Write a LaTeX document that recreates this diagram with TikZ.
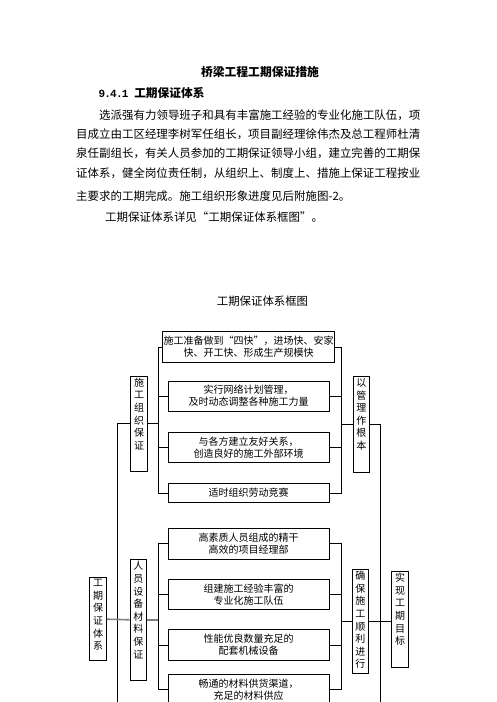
\documentclass[tikz,border=0pt]{standalone}
\usepackage{fontspec}
\setmainfont{Noto Sans CJK SC}
\newfontfamily\monofont{Liberation Mono}
% vertical column of characters, top aligned in a box of fixed height
\newcommand{\stack}[2]{\parbox[c][#1][t]{1em}{\centering #2}}

\begin{document}
\begin{tikzpicture}[x=1pt, y=-1pt,
        item/.style={draw, line width=0.9pt, minimum width=161pt, minimum height=30pt,
            inner sep=1pt, align=center, font=\fontsize{10}{12}\selectfont},
        side/.style={draw, line width=0.9pt, inner xsep=3.3pt, inner ysep=2pt,
            font=\fontsize{10}{12.6}\selectfont},
        body/.style={inner sep=0pt, anchor=base west, font=\fontsize{11.47}{14}\selectfont},
        link/.style={line width=0.9pt},
        trunk/.style={line width=1.6pt, black!50}
    ]
    \useasboundingbox (0,0) rectangle (496,702);

    % --- text above the chart ---
    \node[font=\bfseries\fontsize{11.8}{14}\selectfont] (title) at (260,71.7) {桥梁工程工期保证措施};
    \node[body, font=\bfseries\fontsize{11.7}{14}\selectfont] (sec) at (98.3,97.7)
        {{\monofont\fontsize{11}{12}\selectfont\addfontfeature{LetterSpace=-7}9.4.1 }工期保证体系};
    \foreach \x/\y/\t [count=\i] in {
        99/119.4/选派强有力领导班子和具有丰富施工经验的专业化施工队伍，项,
        76/138.7/目成立由工区经理李树军任组长，项目副经理徐伟杰及总工程师杜清,
        76/157.7/泉任副组长，有关人员参加的工期保证领导小组，建立完善的工期保,
        76/177.1/证体系，健全岗位责任制，从组织上、制度上、措施上保证工程按业,
        76/200.4/主要求的工期完成。施工组织形象进度见后附施图-2。,
        105/221.1/工期保证体系详见“工期保证体系框图”。} {
        \node[body] (p\i) at (\x,\y) {\t};
    }

    \node[font=\fontsize{11.4}{14}\selectfont] (chart) at (262.5,301) {工期保证体系框图};

    % --- measures, first group ---
    \node[item, minimum height=30.5pt] (b1) at (248.7,347) {施工准备做到“四快”，进场快、安家\\快、开工快、形成生产规模快};
    \node[item] (b2) at (248.7,396) {实行网络计划管理，\\及时动态调整各种施工力量};
    \node[item] (b3) at (248.7,447.3) {与各方建立友好关系，\\创造良好的施工外部环境};
    \node[item, minimum height=19.4pt] (b4) at (248.7,493) {适时组织劳动竞赛};

    % --- measures, second group ---
    \node[item, minimum height=31pt] (b5) at (248.7,543.8) {高素质人员组成的精干\\高效的项目经理部};
    \node[item] (b6) at (248.7,594.3) {组建施工经验丰富的\\专业化施工队伍};
    \node[item, minimum height=31.4pt] (b7) at (248.7,645) {性能优良数量充足的\\配套机械设备};
    \node[item, minimum height=31pt] (b8) at (248.7,689.5) {畅通的材料供货渠道，\\充足的材料供应};

    % --- vertical labels ---
    \node[side] (L1) at (139,423.8) {\stack{91.7pt}{施\\工\\组\\织\\保\\证}};
    \node[side] (L2) at (138.3,620) {\stack{117pt}{人\\员\\设\\备\\材\\料\\保\\证}};
    \node[side] (root) at (98,619) {\stack{79pt}{工\\期\\保\\证\\体\\系}};
    \node[side] (R1) at (361.3,424.5) {\stack{92pt}{以\\管\\理\\作\\根\\本}};
    \node[side] (R2) at (360.4,621.3) {\stack{100pt}{确\\保\\施\\工\\顺\\利\\进\\行}};
    \node[side] (goal) at (400,619.3) {\stack{92pt}{实\\现\\工\\期\\目\\标}};

    % bus lines and the outer lines running off the page
    \coordinate (lb) at (158,0);
    \coordinate (rb) at (341,0);
    \coordinate (lo) at (117,710);
    \coordinate (ro) at (380,710);

    % first group
    \draw[link] (b1.west) -- (b1.west -| lb) -- (b4.west -| lb) -- (b4.west);
    \draw[link] (b1.east) -- (b1.east -| rb) -- (b4.east -| rb) -- (b4.east);
    \foreach \b in {b2,b3} {
        \draw[link] (\b.west) -- (\b.west -| lb);
        \draw[link] (\b.east) -- (\b.east -| rb);
    }
    \draw[link] (L1) -- (L1 -| lb);
    \draw[link] (R1) -- (R1 -| rb);

    % second group
    \draw[link] (b5.west) -- (b5.west -| lb) -- (b8.west -| lb) -- (b8.west);
    \draw[link] (b5.east) -- (b5.east -| rb) -- (b8.east -| rb) -- (b8.east);
    \foreach \b in {b6,b7} {
        \draw[link] (\b.west) -- (\b.west -| lb);
        \draw[link] (\b.east) -- (\b.east -| rb);
    }
    \draw[trunk] (L2) -- (L2 -| lb);
    \draw[link] (R2) -- (R2 -| rb);

    % outer lines
    \draw[link] (L1.west) -| (lo);
    \draw[link] (R1.east) -| (ro);
    \draw[trunk] (root) -- (L2);
    \draw[link] (R2.east) -- (R2.east -| goal.west);
\end{tikzpicture}
\end{document}
